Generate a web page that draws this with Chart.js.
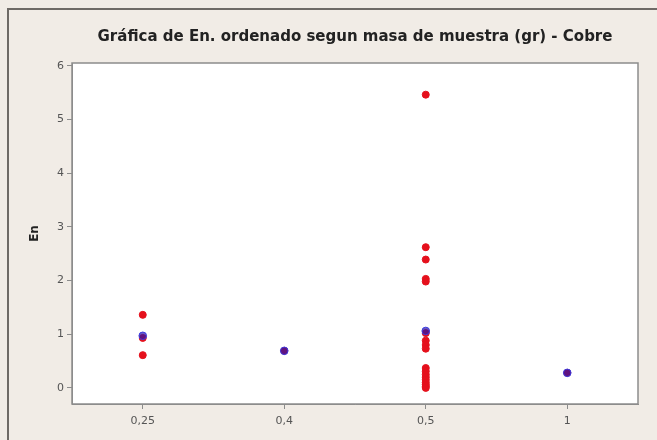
<!DOCTYPE html>
<html>
<head>
<meta charset="utf-8">
<script src="https://cdn.jsdelivr.net/npm/chart.js@4"></script>
<style>
  html, body { margin: 0; padding: 0; background: #f1ece6; }
  #wrap { width: 657px; height: 440px; }
</style>
</head>
<body>
<div id="wrap"><canvas id="chart" width="657" height="440"></canvas></div>
<script>
// Categories (masa de muestra, gr)
const categories = ["0,25", "0,4", "0,5", "1"];
const yTicks = [0, 1, 2, 3, 4, 5, 6];

// Red series: En values per sample mass
const redMasses = ["0,25", "0,25", "0,25", "0,4",
  "0,5", "0,5", "0,5", "0,5", "0,5", "0,5", "0,5", "0,5", "0,5",
  "0,5", "0,5", "0,5", "0,5", "0,5", "0,5", "0,5", "0,5", "0,5", "1"];
const redValues = [1.36, 0.93, 0.61, 0.69,
  5.46, 2.62, 2.39, 2.03, 1.98, 1.02, 0.88, 0.80, 0.73,
  0.37, 0.31, 0.25, 0.20, 0.15, 0.10, 0.06, 0.03, 0.00, 0.28];

// Blue series (reference value) per sample mass
const blueMasses = ["0,25", "0,4", "0,5", "1"];
const blueValues = [0.97, 0.69, 1.06, 0.28];

const toPoints = (xs, ys) => xs.map((x, i) => ({ x: x, y: ys[i] }));

// Background, outer frame and white plot area
const frame = {
  id: "frame",
  beforeDraw(chart) {
    const { ctx, chartArea: a } = chart;
    ctx.save();
    ctx.fillStyle = "#f1ece6";
    ctx.fillRect(0, 0, chart.width, chart.height);
    ctx.strokeStyle = "#6e6a66";
    ctx.lineWidth = 2;
    ctx.beginPath();
    ctx.moveTo(8, chart.height);
    ctx.lineTo(8, 9);
    ctx.lineTo(chart.width, 9);
    ctx.stroke();
    ctx.fillStyle = "#ffffff";
    ctx.fillRect(a.left, a.top, a.right - a.left, a.bottom - a.top);
    ctx.restore();
  },
  afterDraw(chart) {
    const { ctx, chartArea: a } = chart;
    ctx.save();
    ctx.strokeStyle = "#8c8c8c";
    ctx.lineWidth = 1.5;
    ctx.strokeRect(a.left, a.top, a.right - a.left, a.bottom - a.top);
    ctx.restore();
  }
};

new Chart(document.getElementById("chart"), {
  type: "scatter",
  data: {
    datasets: [
      {
        label: "En",
        data: toPoints(redMasses, redValues),
        backgroundColor: "#e5101c",
        borderColor: "#e5101c",
        pointRadius: 3.5,
        borderWidth: 1,
        order: 2
      },
      {
        label: "Ref",
        data: toPoints(blueMasses, blueValues),
        backgroundColor: "rgba(40, 20, 170, 0.7)",
        borderColor: "#3b3be0",
        pointRadius: 3.8,
        borderWidth: 1,
        order: 1
      }
    ]
  },
  options: {
    responsive: false,
    animation: false,
    layout: { padding: { left: 0, right: 19, top: 0, bottom: 0 } },
    plugins: {
      legend: { display: false },
      tooltip: { enabled: false },
      title: {
        display: true,
        fullSize: false,
        text: "Gráfica de En. ordenado segun masa de muestra (gr) - Cobre",
        color: "#222",
        font: { family: "DejaVu Sans", size: 15, weight: "bold" },
        padding: { top: 28, bottom: 17 },
        align: "center"
      }
    },
    scales: {
      x: {
        type: "category",
        labels: categories,
        offset: true,
        grid: { display: true, drawOnChartArea: false, drawTicks: true, tickLength: 5, color: "#8c8c8c" },
        border: { display: true, color: "#8c8c8c" },
        ticks: { color: "#555", font: { family: "DejaVu Sans", size: 11 }, padding: 6 },
        afterFit: s => { s.height = 36; }
      },
      y: {
        min: -0.3,
        max: 6.05,
        afterBuildTicks: s => { s.ticks = yTicks.map(v => ({ value: v })); },
        grid: { display: true, drawOnChartArea: false, drawTicks: true, tickLength: 5, color: "#8c8c8c" },
        border: { display: true, color: "#8c8c8c" },
        ticks: { color: "#555", font: { family: "DejaVu Sans", size: 11 }, padding: 3 },
        title: {
          display: true,
          text: "En",
          color: "#222",
          font: { family: "DejaVu Sans", size: 12, weight: "bold" },
          padding: { top: 28, bottom: 0 }
        },
        afterFit: s => { s.width = 72; }
      }
    }
  },
  plugins: [frame]
});
</script>
</body>
</html>
